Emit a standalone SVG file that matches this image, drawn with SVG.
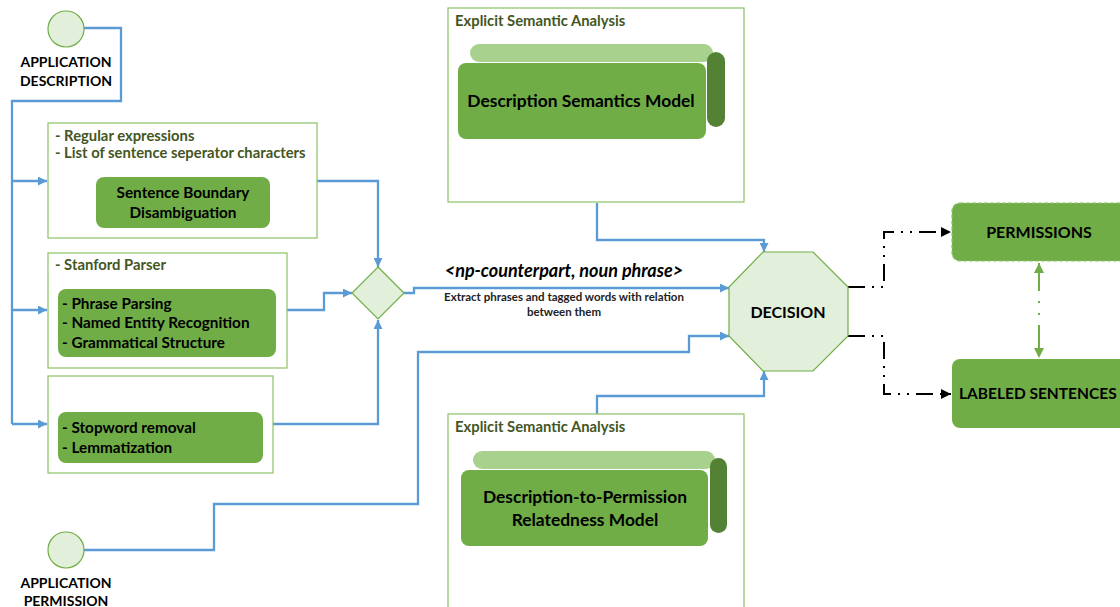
<svg xmlns="http://www.w3.org/2000/svg" width="1120" height="607" viewBox="0 0 1120 607">
  <defs>
    <marker id="arrBlue" viewBox="0 0 10 10" refX="10" refY="5" markerWidth="10" markerHeight="9" markerUnits="userSpaceOnUse" orient="auto">
      <path d="M0,0 L10,5 L0,10 Z" fill="#5b9bd5"/>
    </marker>
    <marker id="arrBlack" viewBox="0 0 10 10" refX="10" refY="5" markerWidth="10" markerHeight="10" markerUnits="userSpaceOnUse" orient="auto">
      <path d="M0,0 L10,5 L0,10 Z" fill="#000"/>
    </marker>
    <marker id="arrGreen" viewBox="0 0 10 10" refX="10" refY="5" markerWidth="10" markerHeight="12" markerUnits="userSpaceOnUse" orient="auto-start-reverse">
      <path d="M0,0 L10,5 L0,10 Z" fill="#70ad47"/>
    </marker>
  </defs>
  <style>
    text { font-family: Lato, "Liberation Sans", sans-serif; font-weight: bold; }
    .frame { fill: #ffffff; stroke: #8cc168; stroke-width: 1.2; }
    .block { fill: #70ad47; }
    .bar { fill: #a9d18e; }
    .side { fill: #548235; }
    .start { fill: #e2efda; stroke: #70ad47; stroke-width: 1.2; }
    .hdr { font-size: 14.8px; fill: #44561f; }
    .inner { font-size: 15.3px; fill: #000; }
    .model { font-size: 17.4px; fill: #000; }
    .cap { font-size: 14px; fill: #000; }
    .big { font-size: 16px; fill: #000; }
    .wide { font-size: 15.5px; fill: #000; }
    .flow { fill: none; stroke: #5b9bd5; stroke-width: 2.3; }
    .out { fill: none; stroke: #000; stroke-width: 2; stroke-dasharray: 17 7 2 7 2 7; }
    .link { fill: none; stroke: #70ad47; stroke-width: 2; stroke-dasharray: 28 10 2 10 2 10; }
  </style>

  <!-- connectors -->
  <g id="connectors">
    <path class="flow" d="M84,28 H121 V101 H12 V424"/>
    <path class="flow" d="M12,181 H47" marker-end="url(#arrBlue)"/>
    <path class="flow" d="M12,310 H47" marker-end="url(#arrBlue)"/>
    <path class="flow" d="M12,424 H47" marker-end="url(#arrBlue)"/>
    <path class="flow" d="M317,181 H378 V267" marker-end="url(#arrBlue)"/>
    <path class="flow" d="M287,310 H324 V293 H352" marker-end="url(#arrBlue)"/>
    <path class="flow" d="M273,424 H378 V320" marker-end="url(#arrBlue)"/>
    <path class="flow" d="M404,293 H414 V288 H729" marker-end="url(#arrBlue)"/>
    <path class="flow" d="M84,550 H214 V504 H418 V352 H689 V336 H729" marker-end="url(#arrBlue)"/>
    <path class="flow" d="M597,203 V240 H764 V252" marker-end="url(#arrBlue)"/>
    <path class="flow" d="M597,414 V396 H764 V371" marker-end="url(#arrBlue)"/>
    <path class="out" d="M848,287 H884 V232 H951" marker-end="url(#arrBlack)"/>
    <path class="out" d="M848,336 H884 V394 H951" marker-end="url(#arrBlack)"/>
    <path class="link" d="M1039,263 V358" marker-start="url(#arrGreen)" marker-end="url(#arrGreen)"/>
  </g>

  <!-- input: application description -->
  <g id="app-description">
    <circle class="start" cx="66" cy="29" r="18"/>
    <text class="cap" x="66" y="67" text-anchor="middle">APPLICATION</text>
    <text class="cap" x="66" y="86" text-anchor="middle">DESCRIPTION</text>
  </g>

  <!-- input: application permission -->
  <g id="app-permission">
    <circle class="start" cx="66" cy="550" r="18"/>
    <text class="cap" x="66" y="588" text-anchor="middle">APPLICATION</text>
    <text class="cap" x="66" y="606" text-anchor="middle">PERMISSION</text>
  </g>

  <!-- sentence boundary disambiguation -->
  <g id="sbd">
    <rect class="frame" x="48" y="123" width="269" height="115"/>
    <text class="hdr" x="55" y="141">- Regular expressions</text>
    <text class="hdr" x="55" y="158">- List of sentence seperator characters</text>
    <rect class="block" x="96" y="177" width="174" height="51" rx="8"/>
    <text class="inner" x="183" y="198" text-anchor="middle">Sentence Boundary</text>
    <text class="inner" x="183" y="218" text-anchor="middle">Disambiguation</text>
  </g>

  <!-- parsing -->
  <g id="parser">
    <rect class="frame" x="48" y="253" width="239" height="115"/>
    <text class="hdr" x="55" y="270">- Stanford Parser</text>
    <rect class="block" x="58" y="289" width="218" height="68" rx="8"/>
    <text class="inner" x="62" y="309">- Phrase Parsing</text>
    <text class="inner" x="62" y="328">- Named Entity Recognition</text>
    <text class="inner" x="62" y="348">- Grammatical Structure</text>
  </g>

  <!-- preprocessing -->
  <g id="preprocess">
    <rect class="frame" x="48" y="376" width="225" height="97"/>
    <rect class="block" x="58" y="412" width="205" height="51" rx="8"/>
    <text class="inner" x="62" y="433">- Stopword removal</text>
    <text class="inner" x="62" y="453">- Lemmatization</text>
  </g>

  <!-- merge gateway -->
  <g id="merge">
    <polygon class="start" points="378,267 404,293 378,319 352,293"/>
  </g>

  <!-- extraction label -->
  <g id="extract-label">
    <text x="564" y="277" text-anchor="middle" font-size="18" font-style="italic" fill="#000">&lt;np-counterpart, noun phrase&gt;</text>
    <text x="564" y="301" text-anchor="middle" font-size="11.5" font-weight="normal" fill="#222">Extract phrases and tagged words with relation</text>
    <text x="564" y="316" text-anchor="middle" font-size="11.5" font-weight="normal" fill="#222">between them</text>
  </g>

  <!-- description semantics model -->
  <g id="esa-description">
    <rect class="frame" x="448" y="8" width="296" height="194"/>
    <text class="hdr" x="455" y="26">Explicit Semantic Analysis</text>
    <rect class="bar" x="470" y="44" width="243" height="18" rx="9"/>
    <rect class="side" x="707" y="52" width="18" height="75" rx="9"/>
    <rect class="block" x="458" y="63" width="248" height="76" rx="8"/>
    <text class="model" x="581" y="107" text-anchor="middle">Description Semantics Model</text>
  </g>

  <!-- description-to-permission relatedness model -->
  <g id="esa-relatedness">
    <rect class="frame" x="448" y="414" width="296" height="200"/>
    <text class="hdr" x="455" y="432">Explicit Semantic Analysis</text>
    <rect class="bar" x="473" y="451" width="242" height="18" rx="9"/>
    <rect class="side" x="710" y="458" width="17" height="75" rx="8.5"/>
    <rect class="block" x="461" y="470" width="247" height="76" rx="8"/>
    <text class="model" x="585" y="503" text-anchor="middle">Description-to-Permission</text>
    <text class="model" x="585" y="526" text-anchor="middle">Relatedness Model</text>
  </g>

  <!-- decision -->
  <g id="decision">
    <polygon class="start" points="763,252 813,252 848,287 848,336 813,371 763,371 729,336 729,287"/>
    <text class="big" x="788" y="318" text-anchor="middle">DECISION</text>
  </g>

  <!-- outputs -->
  <g id="permissions">
    <rect x="952" y="203" width="190" height="58" rx="8" fill="#70ad47" stroke="#8fc46c" stroke-width="1.2" stroke-dasharray="4 2"/>
    <text class="big" x="1039" y="238" text-anchor="middle">PERMISSIONS</text>
  </g>
  <g id="labeled-sentences">
    <rect class="block" x="952" y="359" width="190" height="69" rx="8"/>
    <text class="wide" x="959" y="399">LABELED SENTENCES</text>
  </g>
</svg>
